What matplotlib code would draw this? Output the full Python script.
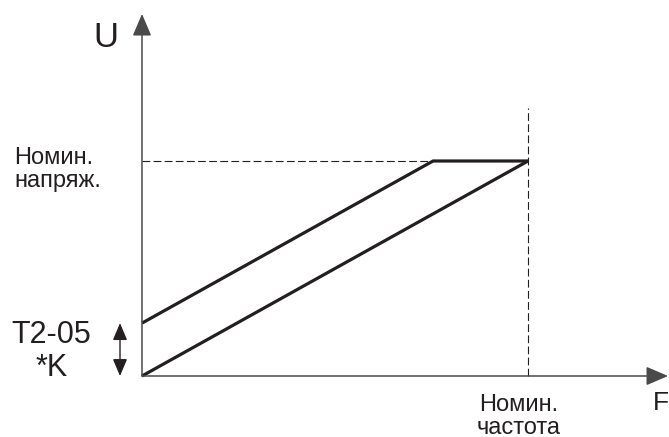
import numpy as np
import matplotlib
matplotlib.use('Agg')
import matplotlib.pyplot as plt

plt.rcParams['font.family'] = ['Liberation Sans', 'DejaVu Sans']

# chart units: F / F_nom, U / U_nom
f_nom = 1.0
u_nom = 1.0
boost = 0.246          # T2-05 * K
f_knee = u_nom - boost  # upper line reaches nominal voltage here

F_lower = np.array([0.0, f_nom])
U_lower = np.array([0.0, u_nom])
F_upper = np.array([0.0, f_knee, f_nom])
U_upper = np.array([boost, u_nom, u_nom])

f_axis_end = 1.363
u_axis_end = 1.684
dash_top = 1.246

ink = '#231f20'
axis_col = '#4a4a4a'

fig = plt.figure(figsize=(6.69, 4.37), dpi=100)
ax = fig.add_axes([0, 0, 1, 1])
ax.set_xlim(-142 / 386, 527 / 386)
ax.set_ylim(-61 / 215, 376 / 215)
ax.axis('off')

# axes with arrows
arr = dict(arrowstyle='-|>,head_length=0.68,head_width=0.29', color=ink,
           lw=1.1, shrinkA=0, shrinkB=0, mutation_scale=20)
ax.annotate('', xy=(0, u_axis_end), xytext=(0, 0),
            arrowprops=dict(arr, color=axis_col))
ax.annotate('', xy=(f_axis_end, 0), xytext=(0, 0),
            arrowprops=dict(arr, color=axis_col))

# nominal guides
ax.plot([0, f_knee], [u_nom, u_nom], color=ink, lw=0.8, ls=(0, (7, 3)))
ax.plot([f_nom, f_nom], [0, dash_top], color=ink, lw=0.8, ls=(0, (7, 3)))

# V/F curves
ax.plot(F_lower, U_lower, color=ink, lw=2.3, solid_capstyle='butt')
ax.plot(F_upper, U_upper, color=ink, lw=2.3, solid_capstyle='butt')

# boost double arrow
darr = dict(arrowstyle='<|-|>,head_length=0.52,head_width=0.22', color=ink,
            lw=1.0, shrinkA=0, shrinkB=0, mutation_scale=20)
ax.annotate('', xy=(-0.057, boost), xytext=(-0.057, 0), arrowprops=darr)

# labels
ax.text(-0.06, 1.575, 'U', fontsize=25, color=ink, ha='right', va='center')
ax.text(1.343, -0.125, 'F', fontsize=19, color=ink,
        ha='center', va='center')
ax.text(-0.33, 0.96, 'Номин.\nнапряж.', fontsize=17, color=ink,
        ha='left', va='center', linespacing=1.05)
ax.text(-0.235, 0.115, 'T2-05\n*K', fontsize=22, color=ink,
        ha='center', va='center', linespacing=1.12)
ax.text(f_nom - 0.025, -0.19, 'Номин.\nчастота', fontsize=17, color=ink,
        ha='center', va='center', linespacing=1.05)

fig.savefig('out.png', dpi=100)
